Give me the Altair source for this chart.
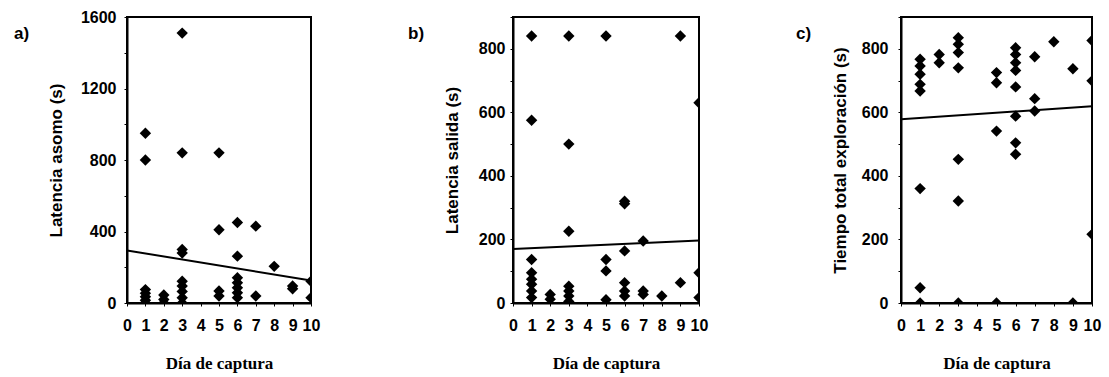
import altair as alt
import pandas as pd

# ---------------- data ----------------
# Panel a) Latencia asomo (s)
dias_a = [1, 1, 1, 1, 1, 1, 1,
          2, 2, 2,
          3, 3, 3, 3, 3, 3, 3, 3, 3,
          5, 5, 5, 5,
          6, 6, 6, 6, 6, 6, 6,
          7, 7,
          8,
          9, 9,
          10, 10]
asomo = [950, 800, 75, 55, 35, 15, 0,
         45, 20, 0,
         1510, 840, 300, 280, 122, 95, 65, 30, 0,
         840, 410, 67, 39,
         450, 262, 141, 113, 85, 57, 30,
         430, 39,
         205,
         95, 80,
         122, 30]

# Panel b) Latencia salida (s)
dias_b = [1, 1, 1, 1, 1, 1, 1, 1,
          2, 2,
          3, 3, 3, 3, 3, 3, 3,
          5, 5, 5, 5,
          6, 6, 6, 6, 6, 6,
          7, 7, 7,
          8,
          9, 9,
          10, 10, 10]
salida = [840, 575, 137, 95, 75, 59, 38, 17,
          27, 12,
          840, 500, 226, 53, 38, 22, 5,
          840, 137, 101, 10,
          320, 312, 164, 64, 38, 22,
          195, 38, 27,
          22,
          840, 64,
          630, 95, 17]

# Panel c) Tiempo total exploración (s)
dias_c = [1, 1, 1, 1, 1, 1, 1, 1,
          2, 2,
          3, 3, 3, 3, 3, 3, 3,
          5, 5, 5, 5,
          6, 6, 6, 6, 6, 6, 6, 6,
          7, 7, 7,
          8,
          9, 9,
          10, 10, 10]
exploracion = [767, 746, 720, 688, 667, 360, 48, 0,
               782, 756,
               835, 814, 788, 740, 452, 321, 0,
               725, 693, 541, 0,
               803, 782, 756, 732, 680, 588, 504, 468,
               775, 643, 604,
               822,
               737, 0,
               826, 699, 216]

# fitted regression lines (end points)
fit_x = [0, 10]
fit_a = [294, 126]
fit_b = [170, 197]
fit_c = [578, 619]

x_ticks = list(range(0, 11))
y_ticks_a = list(range(0, 1601, 200))
y_ticks_bc = list(range(0, 901, 100))

SANS = "Liberation Sans"
SERIF = "Liberation Serif"
H = 286


def panel(days, vals, fit, letter, letter_x, ytitle, ymax, yticks, lab_expr,
          width, lab_pad, title_x):
    df = pd.DataFrame({"dia": days, "v": vals})
    fdf = pd.DataFrame({"dia": fit_x, "v": fit})
    ldf = pd.DataFrame({"t": [letter]})
    xs = alt.Scale(domain=[0, 10], nice=False, zero=False)
    ys = alt.Scale(domain=[0, ymax], nice=False)

    def xax():
        return alt.Axis(title="Día de captura", values=x_ticks,
                        labelExpr="format(datum.value, 'd')",
                        labelFont=SANS, labelFontSize=16, labelFontWeight="bold",
                        labelColor="black", labelFlush=False, labelOverlap=False,
                        labelBaseline="middle", labelPadding=19, tickSize=3,
                        tickColor="black", domainColor="black", domainWidth=2,
                        grid=False, titleFont=SERIF, titleFontSize=17,
                        titleFontWeight="bold", titleColor="black",
                        titleBaseline="middle", titleY=60)

    def yax():
        return alt.Axis(title=ytitle, values=yticks, labelExpr=lab_expr,
                        labelFont=SANS, labelFontSize=16, labelFontWeight="bold",
                        labelColor="black", labelOverlap=False, labelFlush=False,
                        labelPadding=lab_pad, tickSize=3, tickColor="black",
                        domainColor="black", domainWidth=2, grid=False,
                        titleFont=SANS, titleFontSize=17, titleFontWeight="bold",
                        titleColor="black", titleBaseline="middle",
                        titleAngle=270, titleX=title_x, titleY=H / 2)

    pts = alt.Chart(df).mark_point(shape="diamond", filled=True, size=130,
                                   color="black", opacity=1, clip=True).encode(
        x=alt.X("dia:Q", scale=xs, axis=xax()),
        y=alt.Y("v:Q", scale=ys, axis=yax()),
    )
    line = alt.Chart(fdf).mark_line(color="black", strokeWidth=2,
                                    clip=True).encode(
        x=alt.X("dia:Q", scale=xs, axis=xax()),
        y=alt.Y("v:Q", scale=ys, axis=yax()),
    )
    lab = alt.Chart(ldf).mark_text(align="left", baseline="middle", font=SANS,
                                   fontSize=17, fontWeight="bold",
                                   color="black").encode(
        x=alt.value(letter_x), y=alt.value(17), text="t:N")
    return alt.layer(pts, line, lab).properties(width=width, height=H)


expr_a = "datum.value % 400 == 0 ? format(datum.value, 'd') : ''"
expr_bc = "datum.value % 200 == 0 && datum.value < 900 ? format(datum.value, 'd') : ''"

a = panel(dias_a, asomo, fit_a, "a)", -113, "Latencia asomo (s)", 1600,
          y_ticks_a, expr_a, 184, 8, -71)
b = panel(dias_b, salida, fit_b, "b)", -105, "Latencia salida (s)", 900,
          y_ticks_bc, expr_bc, 186, 5, -61)
c = panel(dias_c, exploracion, fit_c, "c)", -105, "Tiempo total exploración (s)", 900,
          y_ticks_bc, expr_bc, 191, 10, -61)

chart = alt.hconcat(a, b, c, spacing=202, bounds="flush").properties(
    padding={"left": 13, "top": 8, "right": 5, "bottom": 5},
    background="white",
).configure_view(stroke="black", strokeWidth=2)

chart.save("out.html", embed_options={"renderer": "svg", "actions": False})
